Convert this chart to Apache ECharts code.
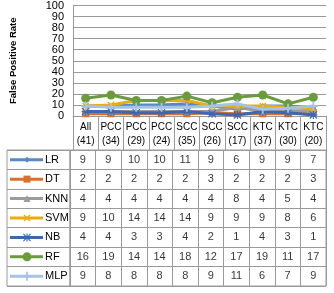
<!DOCTYPE html>
<html><head><meta charset="utf-8">
<script src="https://cdn.jsdelivr.net/npm/echarts@6/dist/echarts.min.js"></script>
<style>html,body{margin:0;padding:0;background:#fff}#c{width:334px;height:293px}</style>
</head><body><div id="c"></div>
<script>
const categories = ['All\n(41)','PCC\n(34)','PCC\n(29)','PCC\n(24)','SCC\n(35)','SCC\n(26)','SCC\n(17)','KTC\n(37)','KTC\n(30)','KTC\n(20)'];
const seriesNames = ['LR','DT','KNN','SVM','NB','RF','MLP'];
const LR  = [9,9,10,10,11,9,6,9,9,7];
const DT  = [2,2,2,2,2,3,2,2,2,3];
const KNN = [4,4,4,4,4,4,8,4,5,4];
const SVM = [9,10,14,14,14,9,9,9,8,6];
const NB  = [4,4,3,3,4,2,1,4,3,1];
const RF  = [16,19,14,14,18,12,17,19,11,17];
const MLP = [9,8,8,8,8,9,11,6,7,9];
const yTicks = {min:0, max:100, interval:10};

const values = [LR,DT,KNN,SVM,NB,RF,MLP];
const colors = ['#5a88c2','#d9712e','#9c9c9c','#e8ad12','#3f66b0','#6b9b3f','#a5c3e6'];
const plusP = 'path://M4,0h2v10h-2z M0,4h10v2h-10z';
const xP = 'path://M1.4,0L10,8.6L8.6,10L0,1.4z M8.6,0L10,1.4L1.4,10L0,8.6z';
const starP = 'path://M4.3,0h1.4v10h-1.4z M0,4.3h10v1.4h-10z M1,0L10,9L9,10L0,1z M9,0L10,1L1,10L0,9z';
const symbols = [['diamond',6],['rect',7],['triangle',7],[xP,7],[starP,8],['circle',9],[plusP,9]];
const FONT = 'Liberation Sans';
const grey = '#9a9a9a';

const series = [];
seriesNames.forEach((n,i)=>{
  series.push({
    type:'line', name:n, xAxisIndex:0, yAxisIndex:0, data:values[i],
    symbol:symbols[i][0], symbolSize:symbols[i][1], showAllSymbol:true,
    lineStyle:{color:colors[i], width:3}, itemStyle:{color:colors[i]},
    z: 2+i, silent:true, animation:false
  });
  series.push({
    type:'line', xAxisIndex:2, yAxisIndex:2, silent:true, animation:false,
    data:[{value:[3,n],symbol:'none'},{value:[20,n]},{value:[36,n],symbol:'none'}],
    symbol:symbols[i][0], symbolSize:symbols[i][1],
    lineStyle:{color:colors[i], width:3}, itemStyle:{color:colors[i]}
  });
});
const cells = [];
seriesNames.forEach((n,i)=>values[i].forEach((v,j)=>cells.push([j, i, v])));
series.push({
  type:'scatter', xAxisIndex:1, yAxisIndex:1, data:cells, symbolSize:2,
  itemStyle:{color:'rgba(0,0,0,0)'}, silent:true, animation:false, z:10,
  label:{show:true, position:'inside', formatter:p=>String(p.value[2]), color:'#000', fontSize:11, fontFamily:FONT}
});

const chart = echarts.init(document.getElementById('c'), null, {renderer:'canvas'});
chart.setOption({
  animation:false,
  grid:[
    {left:70, right:8, top:5, height:111},
    {left:70, right:8, top:150, height:136, show:true, borderColor:grey, borderWidth:1},
    {left:7, width:63, top:150, height:136, show:true, borderColor:grey, borderWidth:1}
  ],
  xAxis:[
    {type:'category', gridIndex:0, data:categories, boundaryGap:true,
     axisLine:{show:true, lineStyle:{color:grey}},
     axisTick:{show:true, length:34, interval:0, lineStyle:{color:grey}},
     axisLabel:{color:'#000', fontSize:10, fontFamily:FONT, lineHeight:14, margin:4, interval:0},
     splitLine:{show:false}},
    {type:'category', gridIndex:1, data:categories, boundaryGap:true,
     axisLine:{show:false}, axisTick:{show:false}, axisLabel:{show:false},
     splitLine:{show:true, interval:0, lineStyle:{color:grey}}},
    {type:'value', gridIndex:2, min:0, max:63, show:false}
  ],
  yAxis:[
    {type:'value', gridIndex:0, min:yTicks.min, max:yTicks.max, interval:yTicks.interval,
     name:'False Positive Rate', nameLocation:'middle', nameGap:55,
     nameTextStyle:{color:'#000', fontSize:9.5, fontWeight:'bold', fontFamily:FONT},
     axisLine:{show:true, lineStyle:{color:grey}}, axisTick:{show:false},
     axisLabel:{color:'#000', fontSize:11, fontFamily:FONT, margin:9},
     splitLine:{show:true, lineStyle:{color:grey}}},
    {type:'category', gridIndex:1, data:seriesNames, inverse:true, boundaryGap:true,
     axisLine:{show:false}, axisTick:{show:false},
     axisLabel:{color:'#000', fontSize:11, fontFamily:FONT, align:'left', margin:25},
     splitLine:{show:true, interval:0, lineStyle:{color:grey}}},
    {type:'category', gridIndex:2, data:seriesNames, inverse:true, boundaryGap:true,
     axisLine:{show:false}, axisTick:{show:false}, axisLabel:{show:false},
     splitLine:{show:true, interval:0, lineStyle:{color:grey}}}
  ],
  series:series
});
</script></body></html>
